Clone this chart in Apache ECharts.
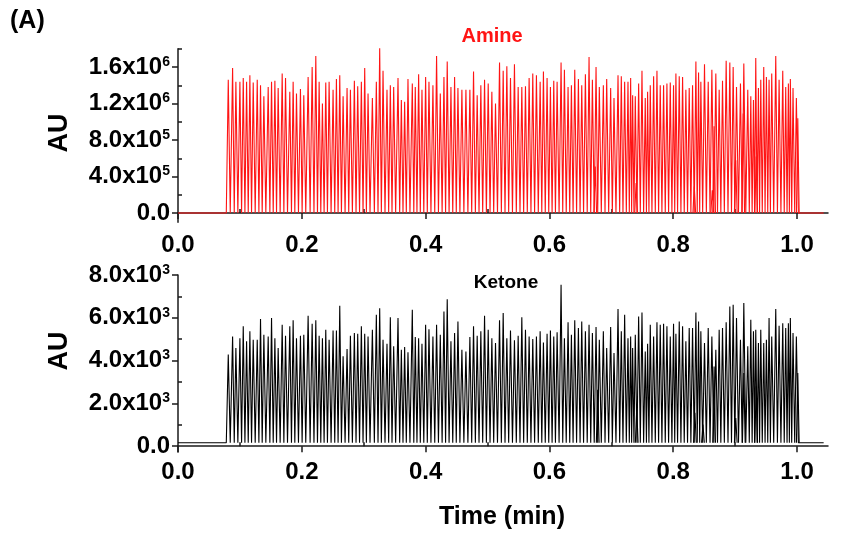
<!DOCTYPE html>
<html>
<head>
<meta charset="utf-8">
<script src="https://cdn.jsdelivr.net/npm/echarts@6/dist/echarts.min.js"></script>
<style>
html,body{margin:0;padding:0;background:#fff;}
#chart{width:859px;height:537px;}
</style>
</head>
<body>
<div id="chart"></div>
<script>
// ---------- data ----------
// retention times of the injection peaks (min), shared by both traces
const peakTimes = [
0.0812,0.0882,0.0935,0.1000,0.1054,0.1108,0.1161,0.1215,0.1280,0.1333,0.1387,0.1457,0.1511,0.1565,0.1618,0.1683,0.1737,0.1806,0.1860,0.1914,0.1978,0.2032,0.2102,0.2167,0.2226,0.2280,0.2333,0.2387,0.2441,0.2505,0.2559,0.2613,0.2667,0.2731,0.2785,0.2849,0.2903,0.2962,0.3016,0.3070,0.3140,0.3204,0.3258,0.3312,0.3376,0.3430,0.3484,0.3554,0.3608,0.3661,0.3715,0.3785,
0.3833,0.3887,0.3941,0.4000,0.4054,0.4118,0.4177,0.4237,0.4296,0.4349,0.4409,0.4468,0.4522,0.4586,0.4651,0.4715,0.4774,0.4833,0.4892,0.4952,0.5011,0.5070,0.5129,0.5194,0.5253,0.5312,0.5371,0.5435,0.5495,0.5554,0.5613,0.5672,0.5731,0.5790,0.5850,0.5903,0.5962,0.6016,0.6070,0.6124,0.6188,0.6242,0.6301,0.6355,0.6409,0.6468,0.6522,0.6581,0.6640,0.6694,0.6753,0.6806,0.6871,
0.6925,0.6989,0.7043,0.7108,0.7161,0.7215,0.7269,0.7312,0.7344,0.7387,0.7441,0.7495,0.7548,0.7586,0.7629,0.7683,0.7737,0.7790,0.7844,0.7898,0.7952,0.8005,0.8043,0.8097,0.8151,0.8204,0.8258,0.8312,0.8366,0.8409,0.8446,0.8505,0.8565,0.8624,0.8688,0.8742,0.8796,0.8855,0.8914,0.8968,0.9022,0.9086,0.9140,0.9204,0.9253,0.9296,0.9333,0.9376,0.9414,0.9462,0.9505,0.9548,0.9591,0.9656,0.9710,0.9769,0.9817,0.9860,0.9892,0.9935,0.9989
];
// Amine peak heights (x10^6 AU)
const amineHeightsE6 = [
1.46,1.59,1.44,1.44,1.48,1.44,1.51,1.43,1.46,1.40,1.28,1.38,1.44,1.45,1.37,1.53,1.48,1.33,1.44,1.31,1.36,1.29,1.49,1.60,1.72,1.44,1.20,1.43,1.44,1.35,1.47,1.51,1.28,1.37,1.35,1.45,1.39,1.44,1.59,1.31,1.26,1.44,1.81,1.56,1.35,1.40,1.38,1.48,1.24,1.22,1.47,1.42,
1.38,1.52,1.35,1.49,1.44,1.40,1.72,1.31,1.49,1.66,1.38,1.49,1.37,1.35,1.35,1.35,1.55,1.29,1.40,1.46,1.42,1.33,1.20,1.65,1.56,1.61,1.48,1.63,1.38,1.38,1.39,1.48,1.53,1.51,1.44,1.55,1.48,1.38,1.45,1.44,1.65,1.57,1.38,1.40,1.57,1.47,1.40,1.52,1.71,1.46,1.60,1.38,1.40,
1.47,1.37,1.26,1.51,1.50,1.44,1.44,1.48,1.29,1.28,1.42,1.56,1.26,1.33,1.40,1.50,1.56,1.40,1.40,1.42,1.43,1.40,1.53,1.50,1.49,1.35,1.37,1.40,1.66,1.54,1.44,1.63,1.44,1.57,1.53,1.35,1.45,1.67,1.65,1.60,1.38,1.42,1.64,1.35,1.28,1.24,1.70,1.37,1.46,1.60,1.49,1.46,1.53,1.72,1.46,1.56,1.38,1.42,1.47,1.37,1.26
];
// Ketone peak heights (AU)
const ketoneHeights = [
4280,5130,4590,5050,5600,4900,5370,4980,4980,5940,5210,5130,5990,5050,4590,5680,5160,5600,5880,5050,5160,5210,6100,5720,5880,5160,5050,5440,4980,5410,5410,6560,4200,4540,5160,5290,5260,5600,5260,5130,5440,6140,6450,4980,4790,6030,4670,5990,4510,4630,4390,6380,
5100,5050,4790,5680,5470,5130,5680,5210,6300,6870,4900,5290,5830,4510,4430,5100,5600,5160,5370,6100,5440,5050,4820,5880,6220,5050,5410,4950,5160,6030,5440,5130,5010,5130,5370,4850,5260,5410,5130,5320,7540,5050,5790,5210,5880,5520,5830,5370,5680,5290,5570,4980,5370,
4590,5570,4350,6410,5370,6140,5050,5130,4590,5210,6060,6250,4430,4790,5680,5130,5790,5680,5720,5600,5130,5720,5260,5830,5600,4900,5520,5520,6250,5830,5370,4820,5520,5130,4510,5440,5520,5790,6530,6610,5990,4980,6690,4670,5910,5370,5440,4820,5440,4820,4980,5990,5130,6410,5630,5750,5520,5750,5990,5290,5130
];
// smaller interleaved peaks
const amineSmallTimes = [0.674,0.740,0.834,0.863,0.866,0.901,0.913,0.934,1.0012];
const amineSmallE6    = [0.51,0.33,0.29,0.25,0.95,0.58,1.09,0.62,1.04];
const ketoneSmallTimes = [0.678,0.741,0.835,0.848,0.866,0.901,0.914,0.934,1.0012];
const ketoneSmall      = [2640,1790,1560,1010,3730,1320,3420,2800,3420];

const amineBaseline = 0;
const ketoneBaseline = 160;
const runEnd = 1.043;

// axis tick values
const xLabels = [0, 0.2, 0.4, 0.6, 0.8, 1.0];
const xMinor = [0.1, 0.3, 0.5, 0.7, 0.9];
const amineLabels = [0, 4e5, 8e5, 1.2e6, 1.6e6];
const amineMinor = [2e5, 6e5, 1e6, 1.4e6, 1.8e6];
const ketoneLabels = [0, 2e3, 4e3, 6e3, 8e3];
const ketoneMinor = [1e3, 3e3, 5e3, 7e3];

// ---------- build traces ----------
const HW = 0.0032;
function buildMain(times, heights, scale, base) {
  const d = [[0, base]];
  for (let i = 0; i < times.length; i++) {
    const t = times[i], h = heights[i];
    if (h === undefined) continue;
    const prev = i > 0 ? times[i-1] : -1, next = i < times.length-1 ? times[i+1] : 99;
    const l = Math.max(t - HW, (prev + t) / 2);
    const r = Math.min(t + HW, (t + next) / 2);
    d.push([l, base], [t, h * scale], [r, base]);
  }
  d.push([runEnd, base]);
  return d;
}
function buildSmall(times, heights, scale, base) {
  const d = [];
  for (let i = 0; i < times.length; i++) {
    const t = times[i];
    d.push([t - 0.0022, base], [t, heights[i] * scale], [t + 0.0022, base], [t + 0.003, '-']);
  }
  return d;
}

const FONT = 'Liberation Sans, Arial, sans-serif';
function sciFmt(v) {
  if (Math.abs(v) < 1e-9) return '0.0';
  const e = Math.floor(Math.log10(v) + 1e-9);
  const m = (v / Math.pow(10, e)).toFixed(1);
  return m + 'x10{sup|' + e + '}';
}
const labelStyle = {
  fontFamily: FONT, fontWeight: 'bold', fontSize: 24, color: '#000',
  rich: { sup: { fontFamily: FONT, fontWeight: 'bold', fontSize: 14, verticalAlign: 'top', lineHeight: 14, padding: [0,0,13,0] } }
};
const axisLineStyle = { color: '#1a1a1a', width: 1.5 };

function xAxes(gridIndex, margin) {
  return [
    { type: 'value', gridIndex, min: 0, max: 1.05,
      axisLine: { show: true, lineStyle: axisLineStyle },
      axisTick: { show: true, length: 6, lineStyle: axisLineStyle, customValues: xLabels },
      axisLabel: { show: true, margin, fontFamily: FONT, fontWeight: 'bold', fontSize: 24, color: '#000',
                   customValues: xLabels, formatter: v => v.toFixed(1) },
      splitLine: { show: false } },
    { type: 'value', gridIndex, min: 0, max: 1.05,
      axisLine: { show: false },
      axisTick: { show: true, length: 4, lineStyle: axisLineStyle, customValues: xMinor },
      axisLabel: { show: false, customValues: xMinor },
      splitLine: { show: false } }
  ];
}
function yAxes(gridIndex, min, max, labels, minor) {
  return [
    { type: 'value', gridIndex, min, max,
      axisLine: { show: true, lineStyle: axisLineStyle },
      axisTick: { show: true, length: 6, lineStyle: axisLineStyle, customValues: labels },
      axisLabel: Object.assign({ show: true, margin: 8, customValues: labels, formatter: sciFmt }, labelStyle),
      splitLine: { show: false } },
    { type: 'value', gridIndex, min, max,
      axisLine: { show: false },
      axisTick: { show: true, length: 4, lineStyle: axisLineStyle, customValues: minor },
      axisLabel: { show: false, customValues: minor },
      splitLine: { show: false } }
  ];
}

const chart = echarts.init(document.getElementById('chart'), null, { renderer: 'canvas' });
const option = {
  animation: false,
  backgroundColor: '#fff',
  grid: [
    { left: 178, top: 48.8, width: 650, height: 173.4 },
    { left: 178, top: 275, width: 650, height: 177 }
  ],
  xAxis: [...xAxes(0, 11), ...xAxes(1, 8)],
  yAxis: [...yAxes(0, -1e5, 1.8e6, amineLabels, amineMinor), ...yAxes(1, -270, 8000, ketoneLabels, ketoneMinor)],
  series: [
    { type: 'line', xAxisIndex: 0, yAxisIndex: 0, showSymbol: false, silent: true,
      data: buildMain(peakTimes, amineHeightsE6, 1e6, amineBaseline),
      lineStyle: { color: '#ff1414', width: 1.1 } },
    { type: 'line', xAxisIndex: 0, yAxisIndex: 0, showSymbol: false, silent: true, connectNulls: false,
      data: buildSmall(amineSmallTimes, amineSmallE6, 1e6, amineBaseline),
      lineStyle: { color: '#ff1414', width: 1.1 } },
    { type: 'line', xAxisIndex: 2, yAxisIndex: 2, showSymbol: false, silent: true,
      data: buildMain(peakTimes, ketoneHeights, 1, ketoneBaseline),
      lineStyle: { color: '#000', width: 1.1 } },
    { type: 'line', xAxisIndex: 2, yAxisIndex: 2, showSymbol: false, silent: true, connectNulls: false,
      data: buildSmall(ketoneSmallTimes, ketoneSmall, 1, ketoneBaseline),
      lineStyle: { color: '#000', width: 1.1 } }
  ],
  graphic: [
    { type: 'text', left: 10, top: 9, style: { text: '(A)', font: 'bold 25px ' + FONT, fill: '#000' } },
    { type: 'text', x: 492, y: 36, style: { text: 'Amine', font: 'bold 20px ' + FONT, fill: '#ff1414', align: 'center', verticalAlign: 'middle' } },
    { type: 'text', x: 506, y: 283, style: { text: 'Ketone', font: 'bold 19px ' + FONT, fill: '#000', align: 'center', verticalAlign: 'middle' } },
    { type: 'text', x: 60, y: 133, rotation: Math.PI / 2, style: { text: 'AU', font: 'bold 27px ' + FONT, fill: '#000', align: 'center', verticalAlign: 'middle' } },
    { type: 'text', x: 60, y: 351, rotation: Math.PI / 2, style: { text: 'AU', font: 'bold 27px ' + FONT, fill: '#000', align: 'center', verticalAlign: 'middle' } },
    { type: 'text', x: 502, y: 517, style: { text: 'Time (min)', font: 'bold 25px ' + FONT, fill: '#000', align: 'center', verticalAlign: 'middle' } }
  ]
};
chart.setOption(option);
</script>
</body>
</html>
